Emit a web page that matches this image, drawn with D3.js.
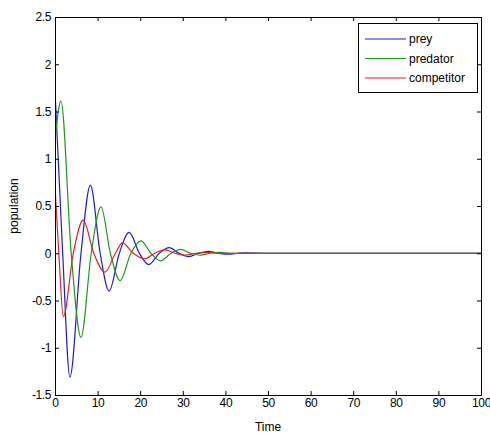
<!DOCTYPE html>
<html>
<head>
<meta charset="utf-8">
<script src="https://cdn.jsdelivr.net/npm/d3@7"></script>
<style>
  html, body { margin: 0; padding: 0; background: #fff; }
  svg { display: block; }
  text { font-family: "Liberation Sans", Arial, Helvetica, sans-serif; }
</style>
</head>
<body>
<svg id="chart" width="490" height="434"></svg>
<script>
// Damped oscillations of the three populations (extrema and zero crossings)
const preyTime = [0, 1.8, 3.5, 6.1, 8.3, 10.6, 12.7, 15.1, 17.4, 19.8, 22.0, 24.5, 26.8, 29.1, 31.4, 33.7, 36.0, 38.4, 40.7, 43.0, 45.0, 50, 100];
const preyValues = [1.72, 0, -1.31, 0, 0.72, 0, -0.40, 0, 0.22, 0, -0.12, 0, 0.06, 0, -0.035, 0, 0.02, 0, -0.01, 0, 0.005, 0, 0];

const predatorTime = [0, 1.4, 3.8, 6.1, 8.5, 10.8, 13.0, 15.3, 17.8, 20.2, 22.5, 24.8, 27.2, 29.5, 31.8, 34.1, 36.4, 38.7, 41.0, 50, 100];
const predatorValues = [1.2, 1.61, 0, -0.89, 0, 0.49, 0, -0.29, 0, 0.13, 0, -0.08, 0, 0.04, 0, -0.02, 0, 0.01, 0, 0, 0];

const competitorTime = [0, 0.9, 1.95, 4.3, 6.6, 9.1, 11.7, 14.2, 15.8, 18.4, 21.0, 23.4, 25.8, 28.2, 30.6, 33.0, 35.4, 37.8, 50, 100];
const competitorValues = [0.70, 0, -0.67, 0, 0.35, 0, -0.20, 0, 0.11, 0, -0.06, 0, 0.035, 0, -0.02, 0, 0.01, 0, 0, 0];

const seriesNames = ["prey", "predator", "competitor"];
const seriesColors = ["#1a1ae6", "#1e9a1e", "#e52222"];

const xTicks = [0, 10, 20, 30, 40, 50, 60, 70, 80, 90, 100];
const yTicks = [-1.5, -1, -0.5, 0, 0.5, 1, 1.5, 2, 2.5];

const xLabel = "Time";
const yLabel = "population";

(function draw() {
  const svg = d3.select("#chart");
  const pl = 55, pr = 481, pt = 17, pb = 395;

  const x = d3.scaleLinear().domain([0, 100]).range([pl, pr]);
  const y = d3.scaleLinear().domain([-1.5, 2.5]).range([pb, pt]);

  const series = [
    { name: seriesNames[0], color: seriesColors[0], t: preyTime, v: preyValues },
    { name: seriesNames[1], color: seriesColors[1], t: predatorTime, v: predatorValues },
    { name: seriesNames[2], color: seriesColors[2], t: competitorTime, v: competitorValues }
  ];

  // curves
  const line = d3.line()
    .x(d => x(d[0]))
    .y(d => y(d[1]))
    .curve(d3.curveMonotoneX);

  svg.append("clipPath").attr("id", "clip").append("rect")
    .attr("x", pl).attr("y", pt).attr("width", pr - pl).attr("height", pb - pt);

  const plot = svg.append("g").attr("clip-path", "url(#clip)");
  series.forEach(s => {
    plot.append("path")
      .datum(s.t.map((t, i) => [t, s.v[i]]))
      .attr("fill", "none")
      .attr("stroke", s.color)
      .attr("stroke-width", 1.2)
      .attr("d", line);
  });

  // axes with inward ticks on all four sides
  function styleAxis(g) {
    g.selectAll("path.domain").attr("stroke", "#000").attr("stroke-width", 1);
    g.selectAll(".tick line").attr("stroke", "#000");
    g.selectAll(".tick text").attr("fill", "#000").attr("font-size", 12)
      .attr("letter-spacing", "-0.4px")
      .attr("font-family", "'Liberation Sans', Arial, sans-serif");
  }

  svg.append("g").attr("transform", `translate(0,${pb})`)
    .call(d3.axisBottom(x).tickValues(xTicks).tickSize(-4).tickSizeOuter(0).tickPadding(3.5).tickFormat(d3.format("d")))
    .call(styleAxis);
  svg.append("g").attr("transform", `translate(0,${pt})`)
    .call(d3.axisTop(x).tickValues(xTicks).tickSize(-4).tickSizeOuter(0).tickFormat(""))
    .call(styleAxis);
  svg.append("g").attr("transform", `translate(${pl},0)`)
    .call(d3.axisLeft(y).tickValues(yTicks).tickSize(-4).tickSizeOuter(0).tickPadding(4).tickFormat(d => String(d)))
    .call(styleAxis);
  svg.append("g").attr("transform", `translate(${pr},0)`)
    .call(d3.axisRight(y).tickValues(yTicks).tickSize(-4).tickSizeOuter(0).tickFormat(""))
    .call(styleAxis);

  // axis titles
  svg.append("text")
    .attr("x", (pl + pr) / 2).attr("y", 431)
    .attr("text-anchor", "middle").attr("font-size", 12).attr("fill", "#000")
    .text(xLabel);
  svg.append("text")
    .attr("transform", `translate(18,${(pt + pb) / 2}) rotate(-90)`)
    .attr("text-anchor", "middle").attr("font-size", 12).attr("fill", "#000")
    .text(yLabel);

  // legend
  const legend = svg.append("g");
  legend.append("rect")
    .attr("x", 358.5).attr("y", 23.5).attr("width", 119).attr("height", 69)
    .attr("fill", "#fff").attr("stroke", "#000").attr("stroke-width", 1);
  series.forEach((s, i) => {
    const ly = 39 + i * 19.5;
    legend.append("line")
      .attr("x1", 365).attr("x2", 406).attr("y1", ly).attr("y2", ly)
      .attr("stroke", s.color).attr("stroke-width", 1.2);
    legend.append("text")
      .attr("x", 409).attr("y", ly + 4)
      .attr("font-size", 12).attr("fill", "#000")
      .text(s.name);
  });
})();
</script>
</body>
</html>
